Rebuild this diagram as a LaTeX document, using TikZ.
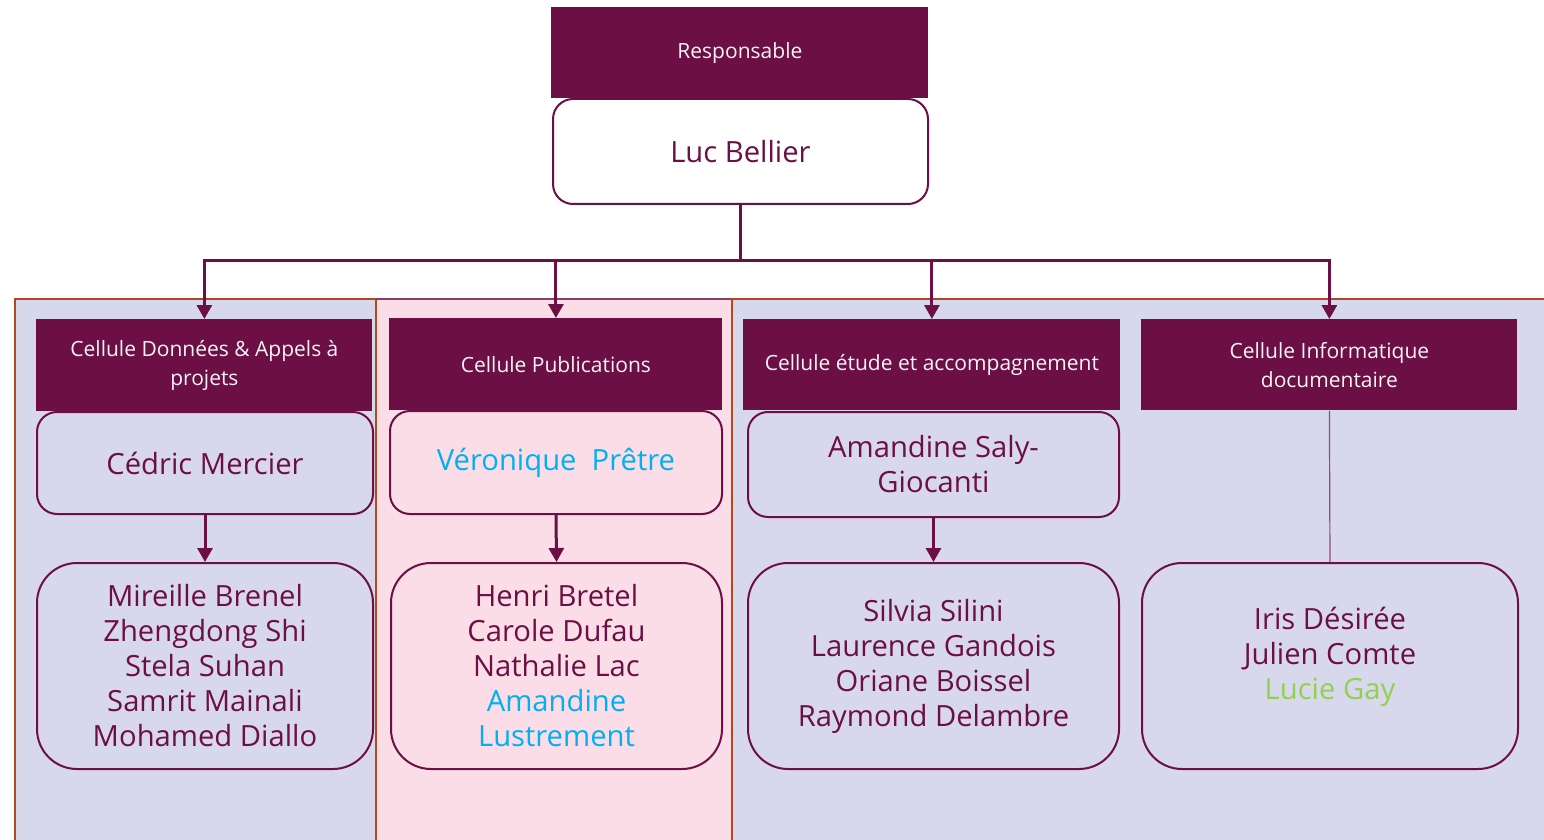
\documentclass[tikz,border=0pt]{standalone}
\usepackage{fontspec}
\setmainfont{Open Sans}
\usetikzlibrary{arrows.meta}
\definecolor{prune}{HTML}{6B0F45}
\definecolor{lavande}{HTML}{D8D8EC}
\definecolor{rose}{HTML}{FADDE7}
\definecolor{rouille}{HTML}{B5481A}
\definecolor{ciel}{HTML}{00B0F0}
\definecolor{vert}{HTML}{92D050}
\begin{document}
\begin{tikzpicture}[x=0.5pt,y=-0.5pt,
	titre/.style={fill=prune,text=white!95!prune,anchor=north west,inner sep=0pt,align=center,font=\fontsize{10.5}{14.5}\selectfont},
	nom/.style={draw=prune,line width=1pt,rounded corners=10pt,anchor=north west,inner sep=0pt,align=center,text=prune,font=\fontsize{14.6}{17.5}\selectfont},
	equipe/.style={nom,rounded corners=20pt},
	lien/.style={draw=prune,line width=1.5pt},
	fleche/.style={lien,-{Triangle[length=7pt,width=7.5pt]}}]
	\useasboundingbox (0,0) rectangle (1544,840);
	% fonds des cellules
	\fill [lavande] (15,299) rectangle (376,840);
	\fill [rose] (376,299) rectangle (732,840);
	\fill [lavande] (732,299) rectangle (1544,840);
	\draw [rouille,line width=1pt] (15,840) -- (15,299) -- (376,299) -- (376,840);
	\draw [prune!80,line width=1pt] (376,299) -- (732,299);
	\draw [rouille,line width=1pt] (732,840) -- (732,299) -- (1544,299);
	% responsable
	\node [titre,minimum width=377*0.5pt,minimum height=91*0.5pt] (resp) at (551,7) {Responsable};
	\node [nom,fill=white,minimum width=375*0.5pt,minimum height=105*0.5pt] (luc) at (552,98) {Luc Bellier};
	% titres des cellules
	\node [titre,minimum width=336*0.5pt,minimum height=92*0.5pt] (t1) at (36,319) {Cellule Données \& Appels à\\projets};
	\node [titre,minimum width=333*0.5pt,minimum height=92*0.5pt] (t2) at (389,318) {Cellule Publications};
	\node [titre,minimum width=377*0.5pt,minimum height=91*0.5pt] (t3) at (743,319) {Cellule étude et accompagnement};
	\node [titre,minimum width=376*0.5pt,minimum height=91*0.5pt] (t4) at (1141,319) {Cellule Informatique\\documentaire};
	% chefs
	\node [nom,minimum width=336*0.5pt,minimum height=102*0.5pt] (c1) at (36,411) {Cédric Mercier};
	\node [nom,minimum width=332*0.5pt,minimum height=103*0.5pt,text=ciel] (c2) at (389,410) {Véronique~ Prêtre};
	\node [nom,minimum width=371*0.5pt,minimum height=105*0.5pt] (c3) at (747,411) {Amandine Saly-\\Giocanti};
	% equipes
	\node [equipe,minimum width=336*0.5pt,minimum height=206*0.5pt] (e1) at (36,562) {Mireille Brenel\\Zhengdong Shi\\Stela Suhan\\Samrit Mainali\\Mohamed Diallo};
	\node [equipe,minimum width=331*0.5pt,minimum height=206*0.5pt] (e2) at (390,562) {Henri Bretel\\Carole Dufau\\Nathalie Lac\\\textcolor{ciel}{Amandine}\\\textcolor{ciel}{Lustrement}};
	\node [equipe,minimum width=371*0.5pt,minimum height=206*0.5pt] (e3) at (747,562) {Silvia Silini\\Laurence Gandois\\Oriane Boissel\\Raymond Delambre};
	\node [equipe,minimum width=376*0.5pt,minimum height=206*0.5pt] (e4) at (1141,562) {Iris Désirée\\Julien Comte\\\textcolor{vert}{Lucie Gay}\\[-4.5pt]\mbox{}};
	% liaisons
	\coordinate (bus) at (luc.south |- 0,261);
	\draw [lien] (luc.south) -- (bus);
	\draw [fleche] (bus) -| (t1.north);
	\draw [fleche] (bus) -| (t2.north);
	\draw [fleche] (bus) -| (t3.north);
	\draw [fleche] (bus) -| (t4.north);
	\draw [fleche] (c1.south) -- (e1.north);
	\draw [fleche] (c2.south) -- (e2.north);
	\draw [fleche] (c3.south) -- (e3.north);
	\draw [prune!75,line width=0.6pt] (t4.south) -- (e4.north);
\end{tikzpicture}
\end{document}
